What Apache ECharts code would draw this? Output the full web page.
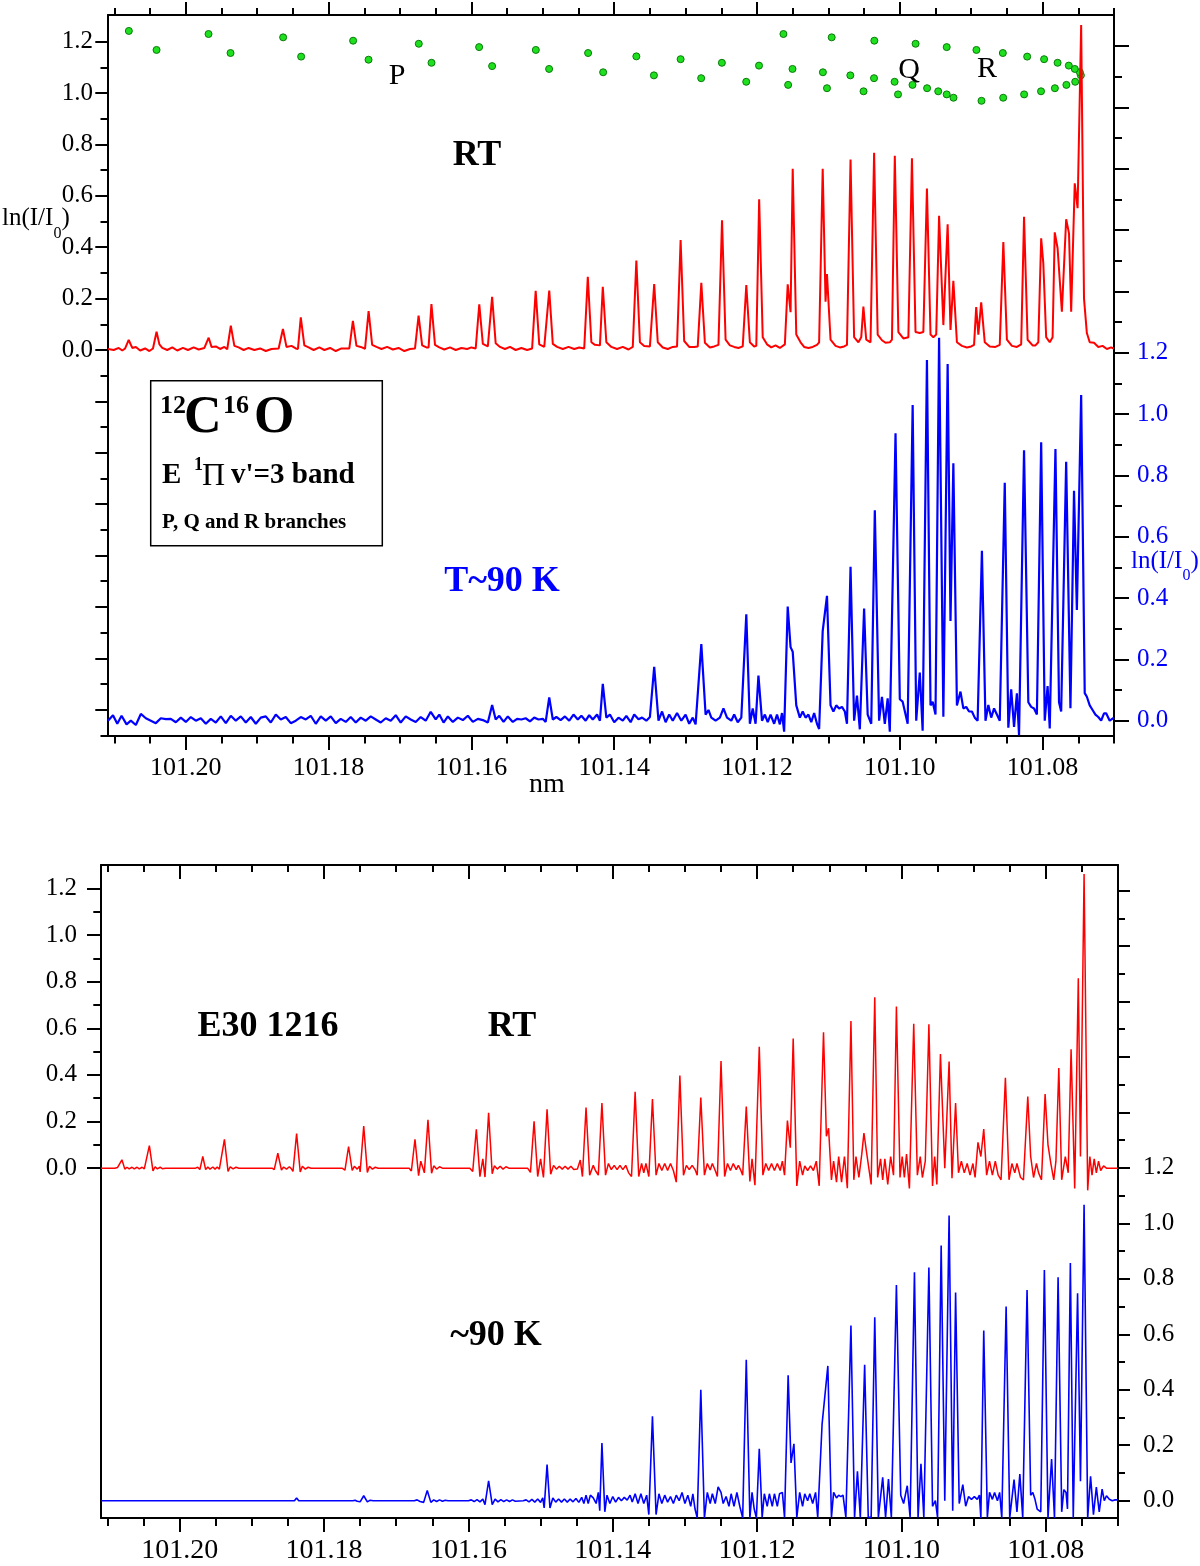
<!DOCTYPE html>
<html>
<head>
<meta charset="utf-8">
<title>12C16O E 1Π v'=3 band</title>
<script src="https://cdn.jsdelivr.net/npm/echarts@6/dist/echarts.min.js"></script>
<style>
  html, body { margin: 0; padding: 0; background: #fff; }
  #chart { width: 1200px; height: 1566px; }
</style>
</head>
<body>
<div id="chart"></div>
<script>
// tick positions (nm and ln(I/I0))
const nmMajor = [101.08, 101.10, 101.12, 101.14, 101.16, 101.18, 101.20];
const nmMinor = [101.07, 101.075, 101.085, 101.09, 101.095, 101.105, 101.11, 101.115, 101.125, 101.13, 101.135,
  101.145, 101.15, 101.155, 101.165, 101.17, 101.175, 101.185, 101.19, 101.195, 101.205, 101.21];
const lnLabels = [0, 0.2, 0.4, 0.6, 0.8, 1.0, 1.2];
const redTopMajor = [-1.4, -1.2, -1.0, -0.8, -0.6, -0.4, -0.2, 0, 0.2, 0.4, 0.6, 0.8, 1.0, 1.2];
const redTopMinor = [-1.5, -1.3, -1.1, -0.9, -0.7, -0.5, -0.3, -0.1, 0.1, 0.3, 0.5, 0.7, 0.9, 1.1];
const blueMajor = [0, 0.2, 0.4, 0.6, 0.8, 1.0, 1.2, 1.4, 1.6, 1.8, 2.0, 2.2];
const blueMinor = [0.1, 0.3, 0.5, 0.7, 0.9, 1.1, 1.3, 1.5, 1.7, 1.9, 2.1];
const redBottomMinor = [0.1, 0.3, 0.5, 0.7, 0.9, 1.1];

// line positions of the three branches (nm, plotted on the RT scale)
const qBranch = [[101.20798,1.242],[101.19682,1.230],[101.18637,1.217],[101.17657,1.204],[101.16737,1.192],
  [101.15892,1.179],[101.15098,1.168],[101.14366,1.156],[101.13690,1.143],[101.13070,1.132],[101.12492,1.118],
  [101.11972,1.107],[101.11503,1.094],[101.11077,1.081],[101.10693,1.069],[101.10361,1.058],[101.10073,1.044],
  [101.09822,1.032],[101.09618,1.019],[101.09462,1.007],[101.09343,0.995],[101.09248,0.982]];
const pBranch = [[101.20410,1.168],[101.19374,1.156],[101.18385,1.142],[101.17441,1.130],[101.16559,1.118],
  [101.15710,1.105],[101.14912,1.094],[101.14155,1.081],[101.13444,1.069],[101.12782,1.058],[101.12151,1.044],
  [101.11564,1.032],[101.11020,1.019],[101.10508,1.007],[101.10025,0.995]];
const rBranch = [[101.08856,0.970],[101.08552,0.982],[101.08259,0.995],[101.08022,1.007],[101.07828,1.019],
  [101.07667,1.032],[101.07543,1.044],[101.07464,1.069],[101.07478,1.081],[101.07549,1.094],[101.07633,1.107],
  [101.07790,1.118],[101.07979,1.132],[101.08216,1.142],[101.08557,1.156],[101.08927,1.168],[101.09343,1.179],
  [101.09779,1.192],[101.10357,1.204],[101.10954,1.217],[101.11630,1.230]];

// measured, room temperature (left scale, top panel)
const rtMeasured = [[101.2109,0.004],[101.2101,0.0],[101.2094,0.008],[101.2089,-0.002],
  [101.2085,0.006],[101.2080,0.039],[101.2075,0.008],[101.2070,0.012],[101.2064,-0.002],[101.2057,0.006],[101.2051,-0.004],
  [101.2046,0.006],[101.2041,0.071],[101.2037,0.022],[101.2033,0.008],[101.2026,0.0],[101.2019,0.01],[101.2012,-0.002],
  [101.2004,0.008],[101.1997,0.0],[101.1989,0.01],[101.1982,0.002],[101.1974,0.008],
  [101.1968,0.048],[101.1964,0.012],[101.1958,0.014],[101.1952,0.004],[101.1946,0.012],[101.1942,0.003],
  [101.1937,0.095],[101.1932,0.016],[101.1926,0.01],[101.1919,0.0],[101.1912,0.008],[101.1904,0.0],[101.1896,0.006],
  [101.1888,-0.004],[101.1880,0.004],[101.1870,0.006],
  [101.1864,0.082],[101.1859,0.012],[101.1852,0.016],[101.1846,0.006],[101.1843,0.004],
  [101.1839,0.127],[101.1834,0.018],[101.1828,0.01],[101.1821,0.0],[101.1813,0.01],[101.1806,0.0],[101.1798,0.008],
  [101.1790,-0.004],[101.1782,0.006],[101.1771,0.006],
  [101.1766,0.113],[101.1761,0.016],[101.1755,0.012],[101.1749,0.005],
  [101.1744,0.151],[101.1739,0.02],[101.1733,0.012],[101.1726,0.004],[101.1718,0.012],[101.1710,0.002],[101.1702,0.008],
  [101.1694,-0.004],[101.1686,0.004],[101.1679,0.006],
  [101.1674,0.134],[101.1669,0.018],[101.1663,0.01],[101.1660,0.01],
  [101.1656,0.179],[101.1651,0.02],[101.1645,0.01],[101.1638,0.002],[101.1630,0.01],[101.1622,0.0],[101.1614,0.008],
  [101.1606,0.004],[101.1600,0.01],[101.1594,0.006],
  [101.1589,0.178],[101.1584,0.024],[101.1577,0.014],[101.1575,0.014],
  [101.1571,0.207],[101.1566,0.026],[101.1560,0.012],[101.1553,0.004],[101.1546,0.012],[101.1538,0.0],[101.1530,0.008],
  [101.1522,0.0],[101.1515,0.006],
  [101.1510,0.230],[101.1505,0.022],[101.1498,0.012],[101.1496,0.012],
  [101.1491,0.231],[101.1486,0.024],[101.1480,0.012],[101.1472,0.004],[101.1464,0.012],[101.1456,0.004],[101.1449,0.01],
  [101.1442,0.006],
  [101.1437,0.285],[101.1432,0.03],[101.1427,0.02],[101.1420,0.018],
  [101.1416,0.246],[101.1411,0.03],[101.1404,0.012],[101.1396,0.004],[101.1388,0.012],[101.1380,0.002],[101.1374,0.012],
  [101.1369,0.348],[101.1364,0.03],[101.1358,0.016],[101.1350,0.014],
  [101.1344,0.257],[101.1339,0.03],[101.1332,0.01],[101.1325,0.004],[101.1318,0.012],[101.1312,0.014],
  [101.1307,0.428],[101.1302,0.035],[101.1295,0.012],[101.1288,0.012],[101.1283,0.014],
  [101.1278,0.262],[101.1273,0.028],[101.1266,0.01],[101.1260,0.014],[101.1254,0.02],
  [101.1249,0.505],[101.1244,0.04],[101.1238,0.018],[101.1232,0.012],[101.1226,0.008],[101.1220,0.014],
  [101.1215,0.253],[101.1210,0.03],[101.1204,0.014],[101.1201,0.016],
  [101.1197,0.587],[101.1192,0.05],[101.1186,0.022],[101.1180,0.01],[101.1174,0.018],[101.1168,0.008],[101.1161,0.022],
  [101.1157,0.256],[101.1153,0.147],[101.1150,0.705],[101.1145,0.06],[101.1139,0.03],[101.1134,0.012],[101.1128,0.008],
  [101.1122,0.012],[101.1116,0.02],[101.1113,0.03],
  [101.1108,0.705],[101.1104,0.188],[101.1102,0.296],[101.1097,0.04],[101.1090,0.016],[101.1084,0.01],[101.1078,0.014],
  [101.1074,0.02],
  [101.1069,0.741],[101.1064,0.05],[101.1058,0.03],[101.1054,0.05],[101.1051,0.169],[101.1047,0.04],[101.1041,0.03],
  [101.1036,0.768],[101.1031,0.06],[101.1025,0.038],[101.1020,0.028],[101.1014,0.03],[101.1011,0.04],
  [101.1007,0.756],[101.1002,0.07],[101.0995,0.045],[101.0988,0.05],
  [101.0983,0.746],[101.0978,0.07],[101.0972,0.066],[101.0967,0.07],
  [101.0962,0.629],[101.0957,0.06],[101.0953,0.05],[101.0949,0.06],
  [101.0945,0.522],[101.0939,0.097],[101.0933,0.489],[101.0929,0.078],[101.0925,0.269],[101.0920,0.03],
  [101.0913,0.016],[101.0906,0.01],[101.0900,0.014],[101.0896,0.02],
  [101.0893,0.167],[101.0890,0.06],[101.0886,0.186],[101.0881,0.03],[101.0874,0.014],[101.0866,0.012],[101.0860,0.02],
  [101.0855,0.420],[101.0850,0.04],[101.0843,0.016],[101.0836,0.012],[101.0830,0.022],
  [101.0826,0.519],[101.0821,0.04],[101.0814,0.018],[101.0810,0.018],[101.0806,0.03],
  [101.0802,0.435],[101.0799,0.337],[101.0795,0.05],[101.0790,0.03],[101.0786,0.05],
  [101.0783,0.458],[101.0779,0.396],[101.0773,0.149],[101.0767,0.509],[101.0763,0.454],[101.0760,0.149],
  [101.0755,0.649],[101.0751,0.552],[101.0746,1.265],[101.0742,0.2],[101.0738,0.066],[101.0734,0.03],[101.0728,0.028],
  [101.0722,0.012],[101.0716,0.016],[101.0710,0.004],[101.0704,0.01],[101.0700,0.005]];

// measured, T~90 K (right scale, top panel)
const coldMeasured = [[101.2109,0.0],[101.2102,0.018],[101.2096,-0.01],[101.2090,0.016],[101.2083,-0.012],[101.2077,0.0],
  [101.2070,-0.014],[101.2063,0.022],[101.2056,0.008],[101.2049,0.0],[101.2042,-0.008],[101.2035,0.008],[101.2028,0.005],
  [101.2021,0.006],[101.2014,-0.005],[101.2007,0.01],[101.2000,-0.004],[101.1993,0.012],[101.1986,0.0],[101.1979,0.008],
  [101.1972,-0.01],[101.1965,0.006],[101.1958,-0.006],[101.1951,0.014],[101.1944,-0.008],[101.1937,0.016],[101.1930,0.0],
  [101.1923,0.014],[101.1916,-0.006],[101.1909,0.012],[101.1902,-0.01],[101.1895,0.01],[101.1888,0.014],[101.1881,-0.006],
  [101.1874,0.02],[101.1867,0.004],[101.1860,0.012],[101.1853,-0.008],[101.1846,0.0],[101.1839,0.012],[101.1832,0.004],
  [101.1825,0.016],[101.1818,-0.01],[101.1811,0.014],[101.1804,0.0],[101.1797,0.014],[101.1790,-0.008],[101.1783,0.006],
  [101.1776,-0.004],[101.1769,0.012],[101.1762,-0.006],[101.1755,0.01],[101.1748,0.0],[101.1741,0.014],[101.1734,0.004],
  [101.1727,-0.006],[101.1720,0.008],[101.1713,0.0],[101.1706,0.018],[101.1699,-0.006],[101.1692,0.014],[101.1685,0.004],
  [101.1678,-0.004],[101.1671,0.012],[101.1664,0.0],[101.1657,0.029],[101.1650,0.004],[101.1645,0.02],[101.1639,-0.006],
  [101.1633,0.014],[101.1626,-0.004],[101.1619,0.01],[101.1612,0.002],[101.1605,0.016],[101.1598,-0.004],[101.1591,0.006],
  [101.1584,0.002],[101.1577,-0.006],[101.1571,0.051],[101.1566,0.004],[101.1561,0.016],[101.1555,-0.004],[101.1549,0.014],
  [101.1542,-0.004],[101.1536,0.006],[101.1530,0.004],[101.1524,0.008],[101.1518,-0.002],[101.1512,0.01],[101.1506,0.004],
  [101.1500,0.006],[101.1496,-0.004],[101.1491,0.076],[101.1486,0.004],[101.1481,0.012],[101.1475,0.002],[101.1469,0.014],
  [101.1463,0.0],[101.1457,0.02],[101.1451,0.004],[101.1446,0.016],[101.1440,0.0],[101.1435,0.018],[101.1430,0.004],
  [101.1424,0.02],[101.1420,0.0],
  [101.1416,0.120],[101.1411,0.01],[101.1406,0.02],[101.1400,-0.005],[101.1394,0.01],[101.1388,0.0],[101.1383,0.016],
  [101.1377,-0.005],[101.1372,0.02],[101.1366,0.005],[101.1361,0.01],[101.1355,0.0],[101.1350,0.012],
  [101.1344,0.176],[101.1338,0.0],[101.1333,0.03],[101.1328,-0.005],[101.1323,0.02],[101.1318,0.0],[101.1312,0.025],
  [101.1306,0.0],[101.1300,0.02],[101.1295,-0.01],[101.1290,0.01],[101.1286,-0.012],
  [101.1278,0.250],[101.1272,0.02],[101.1268,0.035],[101.1264,0.01],[101.1258,0.0],[101.1252,0.01],[101.1247,0.04],
  [101.1242,0.01],[101.1236,0.0],[101.1232,0.02],[101.1227,-0.005],[101.1222,0.01],
  [101.1215,0.347],[101.1210,-0.01],[101.1206,0.04],[101.1202,-0.01],[101.1198,0.147],[101.1193,0.0],[101.1189,0.02],
  [101.1185,-0.005],[101.1181,0.02],[101.1176,-0.01],[101.1172,0.02],[101.1168,-0.012],[101.1165,0.025],[101.1162,-0.036],
  [101.1157,0.372],[101.1153,0.24],[101.1150,0.225],[101.1145,0.05],[101.1140,0.01],[101.1136,0.03],[101.1132,0.01],
  [101.1128,0.02],[101.1124,-0.005],[101.1120,0.025],[101.1116,-0.01],[101.1113,-0.027],
  [101.1108,0.292],[101.1102,0.407],[101.1097,0.05],[101.1093,0.03],[101.1089,0.05],[101.1085,0.04],[101.1081,0.045],
  [101.1077,0.03],[101.1074,-0.01],
  [101.1069,0.502],[101.1064,0.0],[101.1060,0.082],[101.1056,-0.028],[101.1050,0.366],[101.1045,0.02],[101.1040,-0.01],
  [101.1035,0.686],[101.1029,0.0],[101.1025,0.078],[101.1021,-0.01],[101.1017,0.073],[101.1014,-0.036],
  [101.1006,0.937],[101.1000,0.07],[101.0996,0.062],[101.0989,-0.01],
  [101.0982,1.029],[101.0977,0.0],[101.0972,0.157],[101.0968,-0.033],
  [101.0962,1.176],[101.0957,0.05],[101.0954,0.062],[101.0950,0.02],
  [101.0945,1.249],[101.0939,0.013],[101.0933,1.163],[101.0929,0.325],[101.0925,0.839],[101.0920,0.05],[101.0915,0.095],
  [101.0911,0.04],[101.0907,0.045],[101.0903,0.03],[101.0899,0.03],[101.0895,0.01],[101.0891,0.0],
  [101.0885,0.554],[101.0880,0.0],[101.0876,0.051],[101.0872,0.01],[101.0868,0.04],[101.0864,0.02],[101.0860,0.0],
  [101.0853,0.776],[101.0848,-0.023],[101.0844,0.102],[101.0840,-0.02],[101.0836,0.089],[101.0833,-0.047],
  [101.0826,0.882],[101.0820,0.06],[101.0816,0.045],[101.0812,0.04],[101.0808,0.02],
  [101.0802,0.908],[101.0797,0.0],[101.0793,0.113],[101.0790,-0.025],
  [101.0782,0.886],[101.0777,0.06],[101.0774,0.03],
  [101.0767,0.844],[101.0761,0.041],
  [101.0756,0.750],[101.0752,0.361],[101.0746,1.062],[101.0741,0.09],[101.0738,0.078],[101.0734,0.05],[101.0730,0.035],
  [101.0726,0.02],[101.0722,0.012],[101.0718,0.0],[101.0714,0.024],[101.0711,0.024],[101.0706,0.0],[101.0700,0.01]];

// simulated E30 1216, room temperature (left scale, bottom panel)
const rtSimulated = [[101.2109,0],[101.2090,0],[101.2086,0.003],[101.2084,-0.004],[101.2080,0.036],[101.2076,-0.004],
  [101.2073,0.004],[101.2070,-0.003],[101.2066,0.004],[101.2063,-0.003],[101.2059,0.004],[101.2056,-0.003],[101.2052,0.004],
  [101.2049,-0.003],[101.2047,-0.008],[101.2042,0.097],[101.2037,-0.012],[101.2034,0.006],[101.2031,-0.003],[101.2027,0.004],
  [101.2024,-0.002],[101.2020,0],[101.1978,0],
  [101.1975,0.004],[101.1972,-0.006],[101.1968,0.05],[101.1964,-0.006],[101.1961,0.005],[101.1958,-0.004],[101.1954,0.005],
  [101.1951,-0.004],[101.1948,0.005],[101.1945,-0.004],[101.1943,-0.01],[101.1938,0.124],[101.1933,-0.014],[101.1930,0.006],
  [101.1926,-0.003],[101.1922,0.004],[101.1918,0],[101.1872,0],
  [101.1869,-0.006],[101.1864,0.064],[101.1859,-0.008],[101.1856,0.005],[101.1852,-0.004],[101.1848,0.006],[101.1845,-0.004],
  [101.1843,-0.014],[101.1838,0.148],[101.1833,-0.016],[101.1830,0.008],[101.1826,-0.004],[101.1822,0.004],[101.1818,0],
  [101.1775,0],[101.1771,-0.008],[101.1766,0.093],[101.1761,-0.01],[101.1758,0.008],[101.1754,-0.004],[101.1751,0.008],
  [101.1750,-0.016],[101.1745,0.181],[101.1740,-0.018],[101.1737,0.008],[101.1733,-0.004],[101.1729,0.004],[101.1725,0],
  [101.1682,0],[101.1679,-0.012],[101.1674,0.124],[101.1669,-0.032],[101.1666,0.03],[101.1661,-0.02],[101.1656,0.207],
  [101.1651,-0.022],[101.1648,0.01],[101.1644,-0.004],[101.1640,0.006],[101.1636,0],[101.1598,0],
  [101.1594,-0.014],[101.1589,0.167],[101.1584,-0.036],[101.1580,0.04],[101.1577,-0.038],[101.1572,0.238],[101.1567,-0.024],
  [101.1564,0.01],[101.1560,-0.004],[101.1556,0.008],[101.1552,-0.004],[101.1548,0.006],[101.1544,0],[101.1518,0],
  [101.1514,-0.018],[101.1509,0.201],[101.1504,-0.036],[101.1500,0.04],[101.1496,-0.04],[101.1491,0.253],[101.1486,-0.026],
  [101.1482,0.012],[101.1478,-0.004],[101.1474,0.008],[101.1470,-0.004],[101.1466,0.008],[101.1462,-0.004],[101.1458,0.008],
  [101.1454,-0.006],[101.1449,-0.004],[101.1445,0.035],[101.1442,-0.036],[101.1437,0.260],[101.1432,-0.03],[101.1427,0.012],
  [101.1424,-0.01],[101.1420,-0.03],[101.1415,0.279],[101.1410,-0.03],[101.1406,0.02],[101.1402,-0.006],[101.1398,0.012],
  [101.1394,-0.006],[101.1390,0.012],[101.1386,-0.006],[101.1382,0.012],[101.1378,-0.02],[101.1374,-0.036],[101.1369,0.328],
  [101.1364,-0.036],[101.1360,0.02],[101.1357,-0.02],[101.1354,0.02],[101.1350,-0.036],[101.1345,0.296],[101.1340,-0.03],
  [101.1336,0.02],[101.1332,-0.01],[101.1328,0.02],[101.1324,-0.01],[101.1320,0.02],[101.1316,-0.01],[101.1312,-0.06],
  [101.1307,0.397],[101.1302,-0.03],[101.1298,0.012],[101.1294,-0.006],[101.1290,0.012],[101.1286,-0.006],[101.1283,-0.03],
  [101.1278,0.303],[101.1273,-0.03],[101.1269,0.02],[101.1265,-0.008],[101.1262,0.02],[101.1258,-0.01],[101.1255,-0.036],
  [101.1250,0.460],[101.1245,-0.036],[101.1241,0.02],[101.1237,-0.01],[101.1233,0.02],[101.1229,-0.006],[101.1226,0.012],
  [101.1223,-0.006],[101.1220,-0.03],[101.1215,0.264],[101.1210,-0.057],[101.1207,0.04],[101.1203,-0.073],[101.1197,0.521],
  [101.1192,-0.03],[101.1188,0.02],[101.1184,-0.01],[101.1180,0.02],[101.1176,-0.01],[101.1172,0.02],[101.1168,-0.01],
  [101.1165,0.03],[101.1162,-0.03],[101.1158,0.204],[101.1154,0.088],[101.1150,0.556],[101.1145,-0.076],[101.1141,0.03],
  [101.1137,-0.03],[101.1134,0.01],[101.1130,-0.01],[101.1126,0.01],[101.1122,-0.01],[101.1118,0.03],[101.1114,-0.076],
  [101.1108,0.583],[101.1104,0.137],[101.1101,0.171],[101.1097,-0.05],[101.1094,0.03],[101.1090,-0.06],[101.1087,0.05],
  [101.1083,-0.06],[101.1079,0.05],[101.1075,-0.086],[101.1070,0.631],[101.1066,-0.05],[101.1063,0.05],[101.1059,-0.04],
  [101.1055,0.06],[101.1052,0.150],[101.1048,0.06],[101.1042,-0.07],[101.1037,0.733],[101.1033,-0.04],[101.1029,0.04],
  [101.1026,-0.05],[101.1023,0.04],[101.1019,-0.07],[101.1015,0.05],[101.1011,-0.03],[101.1007,0.693],[101.1002,-0.04],
  [101.0999,0.05],[101.0996,-0.04],[101.0993,0.06],[101.0989,-0.087],[101.0983,0.619],[101.0978,-0.03],[101.0974,0.05],
  [101.0971,-0.04],[101.0967,0.03],[101.0962,0.617],[101.0957,-0.076],[101.0954,0.05],[101.0951,-0.07],[101.0946,0.489],
  [101.0940,0.0],[101.0934,0.457],[101.0930,-0.043],[101.0925,0.279],[101.0921,-0.02],[101.0917,0.03],[101.0913,-0.02],
  [101.0909,0.02],[101.0905,-0.03],[101.0901,0.02],[101.0898,-0.04],[101.0894,0.111],[101.0890,0.05],[101.0886,0.168],
  [101.0882,-0.03],[101.0878,0.03],[101.0874,-0.03],[101.0870,0.03],[101.0866,-0.03],[101.0862,-0.05],[101.0856,0.388],
  [101.0851,-0.05],[101.0847,0.02],[101.0843,-0.02],[101.0840,0.02],[101.0835,-0.04],[101.0831,-0.05],[101.0825,0.307],
  [101.0821,0.05],[101.0817,-0.04],[101.0813,0.02],[101.0810,-0.02],[101.0806,-0.05],[101.0801,0.318],[101.0797,0.1],
  [101.0793,0.02],[101.0789,-0.05],[101.0786,0.03],[101.0782,0.429],[101.0778,-0.05],[101.0773,0.05],[101.0769,-0.02],
  [101.0765,0.510],[101.0760,-0.087],[101.0755,0.814],[101.0752,0.05],[101.0747,1.261],[101.0742,-0.095],[101.0739,0.05],
  [101.0736,-0.03],[101.0733,0.04],[101.0730,-0.02],[101.0727,0.03],[101.0724,-0.01],[101.0720,0.01],[101.0716,0.0],
  [101.0700,0.0]];

// simulated ~90 K (right scale, bottom panel)
const coldSimulated = [[101.2109,0],[101.2044,0],[101.2042,0.004],[101.2040,0],[101.1940,0],[101.1938,0.006],[101.1935,0],
  [101.1841,0],[101.1838,0.01],[101.1835,0],[101.1760,0],[101.1757,0.002],[101.1754,-0.002],[101.1750,-0.004],
  [101.1745,0.018],[101.1740,-0.004],[101.1736,0.002],[101.1732,0],[101.1675,0],[101.1671,0.003],[101.1667,-0.003],
  [101.1662,-0.006],[101.1657,0.037],[101.1652,-0.006],[101.1648,0.003],[101.1644,-0.003],[101.1640,0.003],[101.1636,-0.002],
  [101.1632,0.002],[101.1628,0],[101.1600,0],[101.1596,0.003],[101.1592,-0.003],[101.1588,0.004],[101.1584,-0.004],
  [101.1580,0.006],[101.1577,-0.014],[101.1572,0.072],[101.1567,-0.014],[101.1563,0.006],[101.1559,-0.004],[101.1555,0.004],
  [101.1551,-0.003],[101.1547,0.003],[101.1543,-0.003],[101.1539,0.003],[101.1535,-0.002],[101.1524,0],[101.1520,0.003],
  [101.1516,-0.004],[101.1512,0.005],[101.1508,-0.005],[101.1504,0.006],[101.1500,-0.006],[101.1497,0.01],[101.1495,-0.026],
  [101.1491,0.130],[101.1487,-0.026],[101.1483,0.01],[101.1479,-0.005],[101.1475,0.006],[101.1471,-0.005],[101.1467,0.006],
  [101.1463,-0.005],[101.1459,0.006],[101.1455,-0.004],[101.1451,0.008],[101.1447,-0.006],[101.1443,0.012],[101.1440,-0.01],
  [101.1437,0.02],[101.1434,-0.01],[101.1431,0.02],[101.1427,0.01],[101.1423,-0.01],[101.1420,0.03],[101.1418,-0.036],
  [101.1415,0.208],[101.1411,-0.04],[101.1408,0.02],[101.1404,-0.01],[101.1400,0.015],[101.1396,-0.005],[101.1392,0.012],
  [101.1388,0.0],[101.1384,0.012],[101.1380,0.002],[101.1376,0.02],[101.1373,-0.005],[101.1369,0.025],[101.1365,-0.01],
  [101.1361,0.025],[101.1357,-0.01],[101.1353,0.02],[101.1350,-0.05],[101.1345,0.304],[101.1340,-0.05],[101.1336,0.025],
  [101.1332,-0.01],[101.1328,0.02],[101.1324,-0.005],[101.1320,0.015],[101.1316,-0.01],[101.1312,0.02],[101.1308,0.0],
  [101.1304,0.03],[101.1300,-0.01],[101.1296,0.02],[101.1292,-0.02],[101.1289,0.025],[101.1286,-0.03],[101.1283,-0.062],
  [101.1278,0.400],[101.1273,-0.062],[101.1269,0.03],[101.1265,-0.01],[101.1262,0.025],[101.1258,-0.01],[101.1254,0.05],
  [101.1250,0.03],[101.1247,-0.01],[101.1243,0.015],[101.1239,-0.02],[101.1236,0.025],[101.1232,-0.02],[101.1228,0.03],
  [101.1224,-0.02],[101.1220,-0.062],[101.1215,0.508],[101.1210,-0.062],[101.1207,0.03],[101.1204,-0.03],[101.1201,-0.062],
  [101.1197,0.187],[101.1193,-0.06],[101.1190,0.025],[101.1186,-0.02],[101.1183,0.025],[101.1179,-0.02],[101.1176,0.025],
  [101.1172,-0.02],[101.1169,0.025],[101.1165,0.03],[101.1162,-0.06],[101.1157,0.452],[101.1153,0.136],[101.1149,0.205],
  [101.1145,-0.06],[101.1141,0.03],[101.1137,-0.02],[101.1134,0.025],[101.1130,0.0],[101.1127,0.025],[101.1123,-0.01],
  [101.1119,0.03],[101.1116,-0.06],[101.1110,0.275],[101.1108,0.280],[101.1102,0.486],[101.1097,-0.06],[101.1094,0.03],
  [101.1090,0.01],[101.1087,0.02],[101.1084,0.015],[101.1081,0.02],[101.1077,-0.06],[101.1070,0.632],[101.1065,-0.06],
  [101.1061,0.106],[101.1057,-0.06],[101.1051,0.490],[101.1046,-0.06],[101.1042,-0.06],[101.1037,0.661],[101.1032,-0.06],
  [101.1026,0.084],[101.1022,-0.06],[101.1018,0.078],[101.1014,-0.06],[101.1007,0.778],[101.1001,0.02],[101.0997,-0.01],
  [101.0992,0.054],[101.0988,-0.06],[101.0982,0.824],[101.0977,-0.06],[101.0973,0.133],[101.0969,-0.06],[101.0962,0.841],
  [101.0957,-0.02],[101.0953,0.0],[101.0950,-0.06],[101.0945,0.920],[101.0940,0.0],[101.0934,1.028],[101.0929,-0.036],
  [101.0925,0.751],[101.0920,-0.01],[101.0915,0.058],[101.0911,-0.02],[101.0907,0.015],[101.0903,0.005],[101.0899,0.015],
  [101.0895,0.005],[101.0892,0.02],[101.0890,-0.062],[101.0886,0.614],[101.0881,-0.06],[101.0878,0.03],[101.0874,0.005],
  [101.0871,0.03],[101.0867,0.0],[101.0864,0.03],[101.0861,-0.062],[101.0855,0.700],[101.0850,-0.062],[101.0844,0.076],
  [101.0840,-0.04],[101.0836,0.096],[101.0832,-0.06],[101.0826,0.760],[101.0821,0.02],[101.0818,0.03],[101.0815,0.005],
  [101.0812,-0.03],[101.0807,-0.04],[101.0802,0.832],[101.0797,-0.062],[101.0792,0.150],[101.0788,-0.062],[101.0783,0.806],
  [101.0778,-0.04],[101.0775,0.04],[101.0772,0.03],[101.0770,-0.03],[101.0766,0.857],[101.0762,-0.062],[101.0756,0.748],
  [101.0752,0.070],[101.0747,1.067],[101.0742,-0.062],[101.0738,0.088],[101.0734,-0.05],[101.0730,0.049],[101.0726,-0.04],
  [101.0722,0.042],[101.0719,0.0],[101.0716,0.018],[101.0712,0.005],[101.0708,0.0],[101.0704,0.003],[101.0700,0.003]];

const FONT = '"Liberation Serif", "Times New Roman", serif';
const NM_MIN = 101.07, NM_MAX = 101.2109;

function xAxis(grid, pos, ticks, len, opt) {
  opt = opt || {};
  return {
    type: 'value', gridIndex: grid, position: pos, min: NM_MIN, max: NM_MAX, inverse: true,
    axisLine: { show: !!opt.line, onZero: false, lineStyle: { color: '#000', width: 2 } },
    axisTick: { show: true, inside: !!opt.inside, length: len, customValues: ticks, lineStyle: { color: '#000', width: 2 } },
    axisLabel: opt.labels ? {
      customValues: opt.labels, formatter: v => v.toFixed(2), color: '#000',
      fontFamily: FONT, fontSize: opt.fontSize, margin: opt.margin
    } : { show: false },
    splitLine: { show: false }
  };
}
function yAxis(grid, pos, min, max, ticks, len, opt) {
  opt = opt || {};
  return {
    type: 'value', gridIndex: grid, position: pos, min: min, max: max,
    axisLine: { show: !!opt.line, onZero: false, lineStyle: { color: '#000', width: 2 } },
    axisTick: { show: true, length: len, customValues: ticks, lineStyle: { color: '#000', width: 2 } },
    axisLabel: opt.labels ? {
      customValues: opt.labels, formatter: v => v.toFixed(1), color: opt.color || '#000',
      fontFamily: FONT, fontSize: 25, margin: opt.margin
    } : { show: false },
    splitLine: { show: false }
  };
}
function txt(x, y, s, font, color, align) {
  return {
    type: 'text', x: x, y: y, silent: true,
    style: { text: s, font: font, fill: color || '#000', align: align || 'center', textAlign: align || 'center',
      verticalAlign: 'middle', textVerticalAlign: 'middle' }
  };
}

const chart = echarts.init(document.getElementById('chart'));
chart.setOption({
  animation: false,
  backgroundColor: '#fff',
  grid: [
    { left: 108, top: 15, width: 1006, height: 721 },
    { left: 101, top: 865, width: 1017, height: 653 }
  ],
  xAxis: [
    xAxis(0, 'bottom', nmMajor, 14, { line: true, labels: nmMajor, fontSize: 26, margin: 19 }),
    xAxis(0, 'bottom', nmMinor, 7.5),
    xAxis(0, 'top', nmMajor, 13, { line: true }),
    xAxis(0, 'top', nmMinor, 7),
    xAxis(1, 'bottom', nmMajor, 14, { line: true, labels: nmMajor, fontSize: 28, margin: 19 }),
    xAxis(1, 'bottom', nmMinor, 8),
    xAxis(1, 'top', nmMajor, 14, { line: true, inside: true }),
    xAxis(1, 'top', nmMinor, 7, { inside: true })
  ],
  yAxis: [
    yAxis(0, 'left', -1.5025, 1.304, redTopMajor, 12.7, { line: true, labels: lnLabels, margin: 15 }),
    yAxis(0, 'left', -1.5025, 1.304, redTopMinor, 7.5),
    yAxis(0, 'right', -0.0499, 2.301, blueMajor, 15, { line: true, labels: lnLabels, color: '#0000ff', margin: 23 }),
    yAxis(0, 'right', -0.0499, 2.301, blueMinor, 8),
    yAxis(1, 'left', -1.5, 1.3, lnLabels, 14, { line: true, labels: lnLabels, margin: 24 }),
    yAxis(1, 'left', -1.5, 1.3, redBottomMinor, 7.7),
    yAxis(1, 'right', -0.0623, 2.292, blueMajor, 12, { line: true, labels: lnLabels, margin: 25 }),
    yAxis(1, 'right', -0.0623, 2.292, blueMinor, 7)
  ],
  series: [
    { name: 'RT', type: 'line', xAxisIndex: 0, yAxisIndex: 0, data: rtMeasured, showSymbol: false,
      lineStyle: { color: '#ff0000', width: 2 }, itemStyle: { color: '#ff0000' } },
    { name: 'T~90 K', type: 'line', xAxisIndex: 0, yAxisIndex: 2, data: coldMeasured, showSymbol: false,
      lineStyle: { color: '#0000ff', width: 2.2 }, itemStyle: { color: '#0000ff' } },
    { name: 'P', type: 'scatter', xAxisIndex: 0, yAxisIndex: 0, data: pBranch, symbolSize: 7,
      itemStyle: { color: '#1fe01f', borderColor: '#0a7a0a', borderWidth: 1, opacity: 1 } },
    { name: 'Q', type: 'scatter', xAxisIndex: 0, yAxisIndex: 0, data: qBranch, symbolSize: 7,
      itemStyle: { color: '#1fe01f', borderColor: '#0a7a0a', borderWidth: 1, opacity: 1 } },
    { name: 'R', type: 'scatter', xAxisIndex: 0, yAxisIndex: 0, data: rBranch, symbolSize: 7,
      itemStyle: { color: '#1fe01f', borderColor: '#0a7a0a', borderWidth: 1, opacity: 1 } },
    { name: 'E30 1216 RT', type: 'line', xAxisIndex: 4, yAxisIndex: 4, data: rtSimulated, showSymbol: false,
      lineStyle: { color: '#ff0000', width: 1.5 }, itemStyle: { color: '#ff0000' } },
    { name: 'E30 1216 ~90 K', type: 'line', xAxisIndex: 4, yAxisIndex: 6, data: coldSimulated, showSymbol: false,
      lineStyle: { color: '#0000ff', width: 1.6 }, itemStyle: { color: '#0000ff' } }
  ],
  graphic: [
    // top panel annotations
    txt(477, 156, 'RT', 'bold 36px ' + FONT),
    txt(397, 76, 'P', '30px ' + FONT),
    txt(909, 70, 'Q', '30px ' + FONT),
    txt(987, 69, 'R', '30px ' + FONT),
    txt(502, 582, 'T~90 K', 'bold 36px ' + FONT, '#0000ff'),
    txt(547, 785, 'nm', '28px ' + FONT),
    // left axis name
    txt(2, 218, 'ln(I/I', '25px ' + FONT, '#000', 'left'),
    txt(53.5, 234, '0', '16px ' + FONT, '#000', 'left'),
    txt(61.5, 218, ')', '25px ' + FONT, '#000', 'left'),
    // right axis name
    txt(1131, 561, 'ln(I/I', '25px ' + FONT, '#0000ff', 'left'),
    txt(1182.5, 576, '0', '16px ' + FONT, '#0000ff', 'left'),
    txt(1190.5, 561, ')', '25px ' + FONT, '#0000ff', 'left'),
    // molecule box
    { type: 'rect', silent: true, shape: { x: 150.7, y: 380.7, width: 231.6, height: 165 },
      style: { fill: 'transparent', stroke: '#000', lineWidth: 1.5 } },
    txt(160, 406, '12', 'bold 26px ' + FONT, '#000', 'left'),
    txt(184, 419, 'C', 'bold 52px ' + FONT, '#000', 'left'),
    txt(223, 406, '16', 'bold 26px ' + FONT, '#000', 'left'),
    txt(254, 419, 'O', 'bold 52px ' + FONT, '#000', 'left'),
    txt(162, 476, 'E', 'bold 29px ' + FONT, '#000', 'left'),
    txt(194, 465, '1', 'bold 18px ' + FONT, '#000', 'left'),
    txt(202, 477, 'Π', '32px ' + FONT, '#000', 'left'),
    txt(231, 476, "v'=3 band", 'bold 29px ' + FONT, '#000', 'left'),
    txt(162, 523, 'P, Q and R branches', 'bold 21px ' + FONT, '#000', 'left'),
    // bottom panel annotations
    txt(268, 1027, 'E30 1216', 'bold 36px ' + FONT),
    txt(512, 1027, 'RT', 'bold 36px ' + FONT),
    txt(496, 1336, '~90 K', 'bold 36px ' + FONT)
  ]
});
</script>
</body>
</html>
